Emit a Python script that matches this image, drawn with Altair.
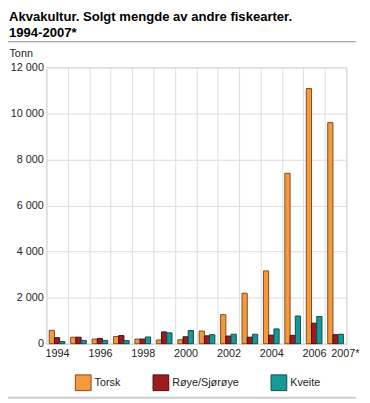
import altair as alt
import pandas as pd

years = ["1994", "1995", "1996", "1997", "1998", "1999", "2000",
         "2001", "2002", "2003", "2004", "2005", "2006", "2007*"]
torsk = [580, 280, 200, 310, 200, 160, 170, 550, 1260, 2190, 3160, 7400, 11080, 9600]
roye = [260, 280, 230, 350, 200, 510, 300, 340, 330, 280, 370, 360, 890, 390]
kveite = [90, 140, 140, 130, 290, 470, 570, 390, 410, 410, 640, 1200, 1180, 410]

series = ["Torsk", "Røye/Sjørøye", "Kveite"]
fills = ["#F7993B", "#9B1B1F", "#17999A"]
strokes = ["#7A4E22", "#4A0C0E", "#0B4F50"]
yticks = [0, 2000, 4000, 6000, 8000, 10000, 12000]
title_lines = ["Akvakultur. Solgt mengde av andre fiskearter.", "1994-2007*"]

rows = []
for i, yr in enumerate(years):
    for s, vals in zip(series, [torsk, roye, kveite]):
        rows.append({"year": yr, "series": s, "value": vals[i]})
df = pd.DataFrame(rows)

FONT = "Liberation Sans"

bars = alt.Chart(df).mark_bar(strokeWidth=1).encode(
    x=alt.X("year:N", sort=years,
            scale=alt.Scale(paddingInner=0, paddingOuter=0),
            axis=alt.Axis(title=None, labelAngle=0, tickBand="extent", grid=True,
                          ticks=False, domain=False, labelPadding=4,
                          labelFontSize=11, labelColor="#222",
                          labelAlign=alt.condition("datum.value == '2007*'", alt.value("left"), alt.value("center")),
                          labelOffset=alt.condition("datum.value == '2007*'", alt.value(-5), alt.value(0)),
                          labelExpr="(toNumber(datum.value) % 2 == 0 || datum.value == '2007*') ? datum.value : ''")),
    xOffset=alt.XOffset("series:N", sort=series,
                        scale=alt.Scale(paddingOuter=0.55, paddingInner=0)),
    y=alt.Y("value:Q", scale=alt.Scale(domain=[0, 12000], nice=False),
            axis=alt.Axis(values=yticks, title="Tonn", titleAngle=0, titleX=-38, titleY=-11,
                          titleAlign="left", titleBaseline="alphabetic",
                          titleFontWeight="normal", titleFontSize=11, titleColor="#222",
                          labelFontSize=11, labelColor="#222", labelPadding=3,
                          ticks=False, domain=False,
                          labelExpr="replace(format(datum.value, ',d'), ',', ' ')")),
    fill=alt.Fill("series:N", sort=series, scale=alt.Scale(domain=series, range=fills),
                  legend=alt.Legend(orient="none", legendX=29, legendY=312, direction="horizontal",
                                    title=None, symbolType="square", symbolSize=256,
                                    symbolStrokeColor="#666", symbolStrokeWidth=1,
                                    labelFontSize=11, labelColor="#222", columnPadding=30,
                                    labelOffset=3)),
    stroke=alt.Stroke("series:N", scale=alt.Scale(domain=series, range=strokes), legend=None),
)

one = pd.DataFrame({"a": [0]})
top_line = alt.Chart(one).mark_rule(color="#888", strokeWidth=1).encode(
    x=alt.value(-39), x2=alt.value(315), y=alt.value(-26))
bottom_line = alt.Chart(one).mark_rule(color="#ccc", strokeWidth=2).encode(
    x=alt.value(-39), x2=alt.value(315), y=alt.value(336))
title1 = alt.Chart(one).mark_text(align="left", baseline="alphabetic", fontSize=13.3,
                                  fontWeight="bold", color="#000").encode(
    x=alt.value(-38), y=alt.value(-47), text=alt.value(title_lines[0]))
title2 = alt.Chart(one).mark_text(align="left", baseline="alphabetic", fontSize=13.3,
                                  fontWeight="bold", color="#000").encode(
    x=alt.value(-38), y=alt.value(-31), text=alt.value(title_lines[1]))

chart = alt.layer(bars, top_line, bottom_line, title1, title2).properties(
    width=305, height=281,
    autosize=alt.AutoSizeParams(type="none"),
    padding={"left": 39, "top": 57, "right": 16, "bottom": 57},
).configure(font=FONT).configure_axis(
    gridColor="#dcdcdc", gridWidth=1
).configure_view(stroke="#c8c8c8")

chart.save("out.html", embed_options={"renderer": "svg", "actions": False})
